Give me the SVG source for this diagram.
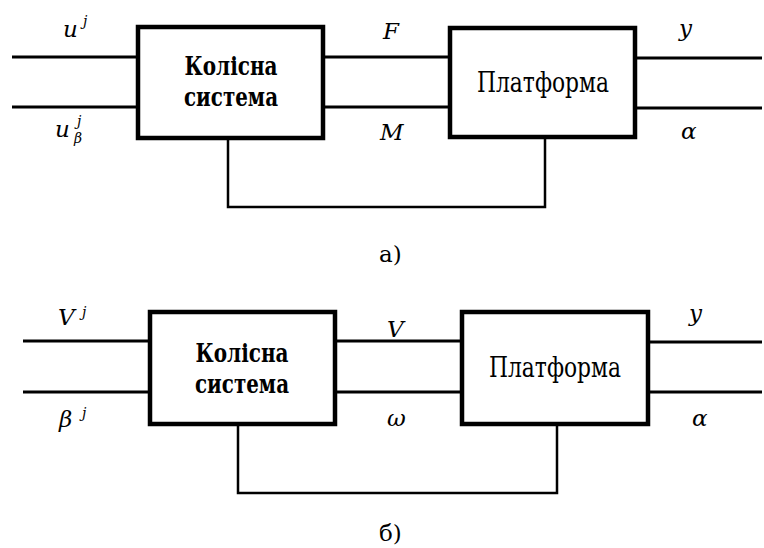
<svg xmlns="http://www.w3.org/2000/svg" width="764" height="548" viewBox="0 0 764 548" font-family="'DejaVu Serif', serif">
  <style>
    .box { fill: #fff; stroke: #000; stroke-width: 4.5; }
    .wire { fill: none; stroke: #000; stroke-width: 3; }
    .fb { fill: none; stroke: #000; stroke-width: 2.5; }
    .title { font-size: 26px; font-weight: bold; text-anchor: middle; fill: #000; }
    .plain { font-size: 27px; text-anchor: middle; fill: #000; }
    .var { font-size: 23px; font-style: italic; fill: #000; }
    .sup { font-size: 14px; font-style: italic; fill: #000; }
    .cap { font-size: 23px; fill: #000; }
  </style>

  <!-- Scheme (a) -->
  <g id="connectors-a">
    <line class="wire" x1="12" y1="57" x2="138" y2="57"/>
    <line class="wire" x1="12" y1="107" x2="138" y2="107"/>
    <line class="wire" x1="323" y1="57" x2="450" y2="57"/>
    <line class="wire" x1="323" y1="107" x2="450" y2="107"/>
    <line class="wire" x1="635" y1="58" x2="762" y2="58"/>
    <line class="wire" x1="635" y1="108" x2="762" y2="108"/>
    <polyline class="fb" points="228,138 228,207 545,207 545,137"/>
  </g>
  <g id="wheel-system-a">
    <rect class="box" x="138" y="27" width="185" height="111"/>
    <text class="title" x="231" y="75" textLength="93" lengthAdjust="spacingAndGlyphs">Колісна</text>
    <text class="title" x="231" y="106" textLength="94" lengthAdjust="spacingAndGlyphs">система</text>
  </g>
  <g id="platform-a">
    <rect class="box" x="450" y="28" width="185" height="109"/>
    <text class="plain" x="543" y="92" textLength="132" lengthAdjust="spacingAndGlyphs">Платформа</text>
  </g>
  <g id="labels-a">
    <text class="var" x="63" y="37">u</text><text class="sup" x="83" y="26">j</text>
    <text class="var" x="55" y="137">u</text><text class="sup" x="77" y="126">j</text><text class="sup" x="74" y="143">β</text>
    <text class="var" x="383" y="39">F</text>
    <text class="var" x="380" y="140">M</text>
    <text class="var" x="679" y="36">y</text>
    <text class="var" x="681" y="139">α</text>
    <text class="cap" x="379" y="262">а)</text>
  </g>

  <!-- Scheme (b) -->
  <g id="connectors-b">
    <line class="wire" x1="23" y1="341" x2="150" y2="341"/>
    <line class="wire" x1="23" y1="392" x2="150" y2="392"/>
    <line class="wire" x1="335" y1="341" x2="462" y2="341"/>
    <line class="wire" x1="335" y1="392" x2="462" y2="392"/>
    <line class="wire" x1="648" y1="342" x2="762" y2="342"/>
    <line class="wire" x1="648" y1="392" x2="762" y2="392"/>
    <polyline class="fb" points="238,424 238,493 557,493 557,424"/>
  </g>
  <g id="wheel-system-b">
    <rect class="box" x="150" y="312" width="185" height="112"/>
    <text class="title" x="242" y="362" textLength="93" lengthAdjust="spacingAndGlyphs">Колісна</text>
    <text class="title" x="242" y="393" textLength="94" lengthAdjust="spacingAndGlyphs">система</text>
  </g>
  <g id="platform-b">
    <rect class="box" x="462" y="312" width="186" height="112"/>
    <text class="plain" x="555" y="377" textLength="132" lengthAdjust="spacingAndGlyphs">Платформа</text>
  </g>
  <g id="labels-b">
    <text class="var" x="58" y="325">V</text><text class="sup" x="82" y="317">j</text>
    <text class="var" x="59" y="427">β</text><text class="sup" x="82" y="418">j</text>
    <text class="var" x="387" y="337">V</text>
    <text class="var" x="387" y="426">ω</text>
    <text class="var" x="689" y="321">y</text>
    <text class="var" x="692" y="426">α</text>
    <text class="cap" x="379" y="541">б)</text>
  </g>
</svg>
